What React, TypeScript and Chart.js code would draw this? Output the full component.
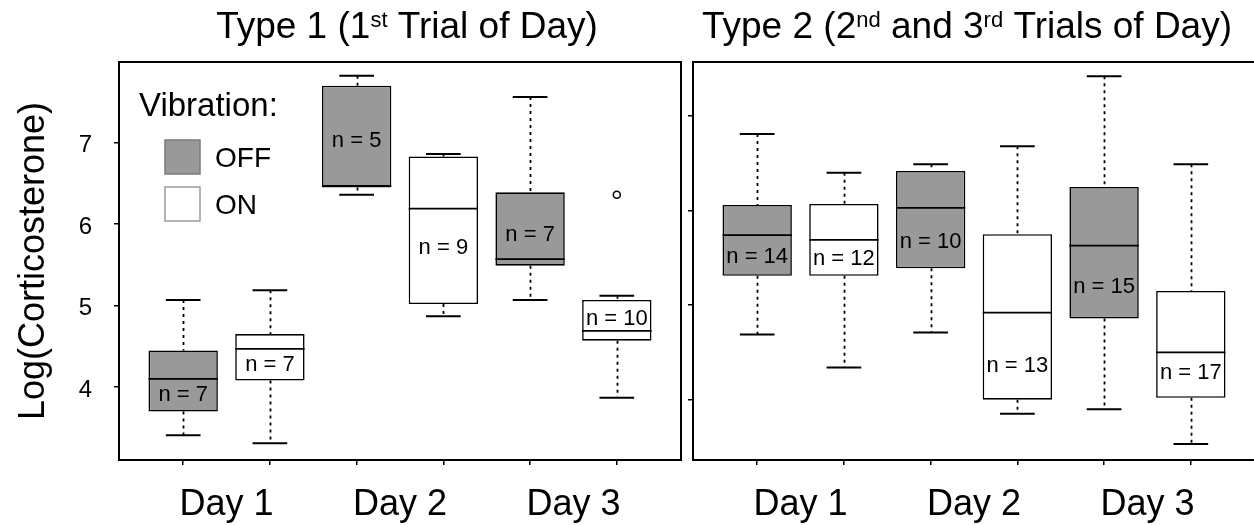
import React, { useEffect, useRef } from 'react';
import { Chart, registerables } from 'chart.js';

Chart.register(...registerables);

const FONT = '"Liberation Sans", Arial, Helvetica, sans-serif';
const GRAY = '#999999';
const WHITE = '#ffffff';

// ---- categories / positions ----
const dayLabels = ['Day 1', 'Day 2', 'Day 3'];
const dayPositions = [0.5, 2.5, 4.5];
const boxPositions = [0, 1, 2, 3, 4, 5];
const vibration = ['OFF', 'ON', 'OFF', 'ON', 'OFF', 'ON'];
const yTickValues = [4, 5, 6, 7];

// ---- Type 1 (1st trial of day) ----
const t1Min = [3.41, 3.31, 6.36, 4.87, 5.07, 3.87];
const t1Q1 = [3.70, 4.08, 6.45, 5.02, 5.49, 4.57];
const t1Median = [4.10, 4.47, 6.47, 6.19, 5.57, 4.69];
const t1Q3 = [4.45, 4.65, 7.70, 6.83, 6.39, 5.07];
const t1Max = [5.07, 5.19, 7.82, 6.86, 7.56, 5.12];
const t1N = [7, 7, 5, 9, 7, 10];
const t1NLabelY = [3.90, 4.27, 7.02, 5.71, 5.87, 4.84];
const t1OutlierX = [5];
const t1OutlierY = [6.36];

// ---- Type 2 (2nd and 3rd trials of day) ----
const t2Min = [4.69, 4.34, 4.71, 3.85, 3.90, 3.53];
const t2Q1 = [5.31, 5.31, 5.39, 4.00, 4.86, 4.02];
const t2Median = [5.74, 5.69, 6.03, 4.92, 5.63, 4.50];
const t2Q3 = [6.06, 6.07, 6.42, 5.75, 6.25, 5.15];
const t2Max = [6.81, 6.40, 6.49, 6.68, 7.42, 6.49];
const t2N = [14, 12, 10, 13, 15, 17];
const t2NLabelY = [5.51, 5.49, 5.67, 4.36, 5.19, 4.28];
const t2OutlierX: number[] = [];
const t2OutlierY: number[] = [];

type Seg = { t: string; sup: boolean };
const title1: Seg[] = [
  { t: 'Type 1 (1', sup: false },
  { t: 'st', sup: true },
  { t: ' Trial of Day)', sup: false },
];
const title2: Seg[] = [
  { t: 'Type 2 (2', sup: false },
  { t: 'nd', sup: true },
  { t: ' and 3', sup: false },
  { t: 'rd', sup: true },
  { t: ' Trials of Day)', sup: false },
];

interface Panel {
  min: number[];
  q1: number[];
  median: number[];
  q3: number[];
  max: number[];
  n: number[];
  nLabelY: number[];
  outX: number[];
  outY: number[];
  yMin: number;
  yMax: number;
  first: boolean;
  title: Seg[];
  titleCenter: number;
  yAxisWidth: number;
  padRight: number;
}

const panel1: Panel = {
  min: t1Min, q1: t1Q1, median: t1Median, q3: t1Q3, max: t1Max, n: t1N, nLabelY: t1NLabelY,
  outX: t1OutlierX, outY: t1OutlierY, yMin: 3.105, yMax: 7.99, first: true,
  title: title1, titleCenter: 407, yAxisWidth: 119, padRight: 6,
};
const panel2: Panel = {
  min: t2Min, q1: t2Q1, median: t2Median, q3: t2Q3, max: t2Max, n: t2N, nLabelY: t2NLabelY,
  outX: t2OutlierX, outY: t2OutlierY, yMin: 3.362, yMax: 7.572, first: false,
  title: title2, titleCenter: 280, yAxisWidth: 6, padRight: 7,
};

function buildConfig(p: Panel): any {
  const idxOff = boxPositions.map((_, i) => i).filter((i) => vibration[i] === 'OFF');
  const idxOn = boxPositions.map((_, i) => i).filter((i) => vibration[i] === 'ON');
  const barDs = (label: string, idx: number[], color: string) => ({
    type: 'bar',
    label,
    data: idx.map((i) => ({ x: boxPositions[i], y: [p.q1[i], p.q3[i]] })),
    backgroundColor: color,
    borderColor: '#000',
    borderWidth: 1.6,
    borderSkipped: false,
    grouped: false,
    categoryPercentage: 0.8,
    barPercentage: 1,
  });

  const boxExtras = {
    id: 'boxExtras',
    beforeDatasetsDraw(chart: any) {
      const { ctx } = chart;
      const xs = chart.scales.x;
      const ys = chart.scales.y;
      ctx.save();
      ctx.strokeStyle = '#000';
      ctx.lineWidth = 1.8;
      ctx.setLineDash([3, 4]);
      boxPositions.forEach((pos, i) => {
        const x = Math.round(xs.getPixelForValue(pos)) + 0.5;
        ctx.beginPath();
        ctx.moveTo(x, ys.getPixelForValue(p.max[i]));
        ctx.lineTo(x, ys.getPixelForValue(p.q3[i]));
        ctx.moveTo(x, ys.getPixelForValue(p.q1[i]));
        ctx.lineTo(x, ys.getPixelForValue(p.min[i]));
        ctx.stroke();
      });
      ctx.restore();
    },
    afterDatasetsDraw(chart: any) {
      const { ctx } = chart;
      const xs = chart.scales.x;
      const ys = chart.scales.y;
      const barW = chart.getDatasetMeta(0).data[0].width;
      ctx.save();
      ctx.strokeStyle = '#000';
      boxPositions.forEach((pos, i) => {
        const x = xs.getPixelForValue(pos);
        const half = barW / 2;
        const cap = half / 2;
        ctx.lineWidth = 1.8;
        ctx.beginPath();
        const ym = ys.getPixelForValue(p.median[i]);
        ctx.moveTo(x - half, ym);
        ctx.lineTo(x + half, ym);
        ctx.stroke();
        ctx.lineWidth = 2;
        ctx.beginPath();
        const yt = ys.getPixelForValue(p.max[i]);
        const yb = ys.getPixelForValue(p.min[i]);
        ctx.moveTo(x - cap, yt);
        ctx.lineTo(x + cap, yt);
        ctx.moveTo(x - cap, yb);
        ctx.lineTo(x + cap, yb);
        ctx.stroke();
        ctx.fillStyle = '#000';
        ctx.font = `22px ${FONT}`;
        ctx.textAlign = 'center';
        ctx.textBaseline = 'middle';
        ctx.fillText(`n = ${p.n[i]}`, x, ys.getPixelForValue(p.nLabelY[i]));
      });
      ctx.restore();
    },
  };

  const framePlugin = {
    id: 'frameAndTitle',
    afterDraw(chart: any) {
      const { ctx, chartArea: a } = chart;
      ctx.save();
      ctx.strokeStyle = '#000';
      ctx.lineWidth = 2;
      ctx.setLineDash([]);
      ctx.strokeRect(a.left, a.top, a.right - a.left, a.bottom - a.top);
      // title with superscripts
      const mainFont = `37px ${FONT}`;
      const supFont = `22px ${FONT}`;
      let total = 0;
      const widths = p.title.map((s) => {
        ctx.font = s.sup ? supFont : mainFont;
        const w = ctx.measureText(s.t).width;
        total += w;
        return w;
      });
      let x = p.titleCenter - total / 2;
      const base = 38;
      ctx.fillStyle = '#000';
      ctx.textAlign = 'left';
      ctx.textBaseline = 'alphabetic';
      p.title.forEach((s, k) => {
        ctx.font = s.sup ? supFont : mainFont;
        ctx.fillText(s.t, x, s.sup ? base - 11 : base);
        x += widths[k];
      });
      ctx.restore();
    },
  };

  const legendPlugin = {
    id: 'vibLegend',
    afterDraw(chart: any) {
      if (!p.first) return;
      const { ctx, chartArea: a } = chart;
      const bars = chart.data.datasets.filter((d: any) => d.type === 'bar');
      ctx.save();
      ctx.fillStyle = '#000';
      ctx.textAlign = 'left';
      ctx.textBaseline = 'alphabetic';
      ctx.font = `33px ${FONT}`;
      ctx.fillText('Vibration:', a.left + 20, a.top + 54);
      bars.forEach((d: any, k: number) => {
        const by = a.top + 78 + k * 47;
        ctx.fillStyle = d.backgroundColor;
        ctx.fillRect(a.left + 46, by, 35, 34);
        ctx.strokeStyle = k === 0 ? '#7a7a7a' : '#9a9a9a';
        ctx.lineWidth = 1.5;
        ctx.strokeRect(a.left + 46, by, 35, 34);
        ctx.fillStyle = '#000';
        ctx.font = `28px ${FONT}`;
        ctx.fillText(d.label, a.left + 96, by + 27);
      });
      ctx.restore();
    },
  };

  const datasets: any[] = [barDs('OFF', idxOff, GRAY), barDs('ON', idxOn, WHITE)];
  if (p.outX.length) {
    datasets.push({
      type: 'scatter',
      label: 'Outlier',
      data: p.outX.map((x, k) => ({ x, y: p.outY[k] })),
      pointRadius: 3.5,
      pointBorderWidth: 1.5,
      backgroundColor: '#fff',
      borderColor: '#000',
      showLine: false,
    });
  }

  return {
    type: 'bar',
    data: { datasets },
    options: {
      responsive: false,
      animation: false,
      devicePixelRatio: 1,
      layout: { padding: { top: 62, right: p.padRight, left: 0, bottom: 0 } },
      plugins: { legend: { display: false }, tooltip: { enabled: false }, title: { display: false } },
      scales: {
        x: {
          type: 'linear',
          position: 'bottom',
          offset: false,
          min: -0.74,
          max: 5.74,
          afterBuildTicks: (s: any) => {
            s.ticks = boxPositions.map((v) => ({ value: v }));
          },
          ticks: { display: false },
          grid: { offset: false, drawOnChartArea: false, drawTicks: true, tickLength: 5, color: '#000', lineWidth: 1.5 },
          border: { display: false },
          afterFit: (s: any) => {
            s.height = 5;
          },
        },
        day: {
          type: 'linear',
          position: 'bottom',
          offset: false,
          weight: 1,
          min: -0.74,
          max: 5.74,
          afterBuildTicks: (s: any) => {
            s.ticks = dayPositions.map((v) => ({ value: v }));
          },
          ticks: {
            callback: (_v: any, i: number) => dayLabels[i],
            font: { size: 36, family: FONT },
            color: '#000',
            padding: 18,
            maxRotation: 0,
            minRotation: 0,
            autoSkip: false,
          },
          grid: { display: false, drawTicks: false, offset: false },
          border: { display: false },
          afterFit: (s: any) => {
            s.height = 60;
          },
        },
        y: {
          type: 'linear',
          position: 'left',
          min: p.yMin,
          max: p.yMax,
          afterBuildTicks: (s: any) => {
            s.ticks = yTickValues.map((v) => ({ value: v }));
          },
          ticks: {
            display: p.first,
            font: { size: 24, family: FONT },
            color: '#000',
            padding: 22,
            labelOffset: 3,
          },
          grid: { drawOnChartArea: false, drawTicks: true, tickLength: 5, color: '#000', lineWidth: 1.5 },
          border: { display: false },
          title: {
            display: p.first,
            text: 'Log(Corticosterone)',
            font: { size: 36, family: FONT },
            color: '#000',
            padding: { top: 12.6, bottom: 0 },
          },
          afterFit: (s: any) => {
            s.width = p.yAxisWidth;
          },
        },
      },
    },
    plugins: [boxExtras, framePlugin, legendPlugin],
  };
}

function Panel({ panel, left, width }: { panel: Panel; left: number; width: number }) {
  const ref = useRef<HTMLCanvasElement | null>(null);
  useEffect(() => {
    if (!ref.current) return;
    const chart = new Chart(ref.current, buildConfig(panel));
    return () => chart.destroy();
  }, [panel]);
  return (
    <canvas
      ref={ref}
      width={width}
      height={525}
      style={{ position: 'absolute', left, top: 0, width, height: 525, display: 'block' }}
    />
  );
}

export default function App() {
  return (
    <div
      style={{
        position: 'fixed',
        left: 0,
        top: 0,
        width: 1254,
        height: 525,
        overflow: 'hidden',
        background: '#fff',
      }}
    >
      <Panel panel={panel1} left={0} width={687} />
      <Panel panel={panel2} left={687} width={575} />
    </div>
  );
}
